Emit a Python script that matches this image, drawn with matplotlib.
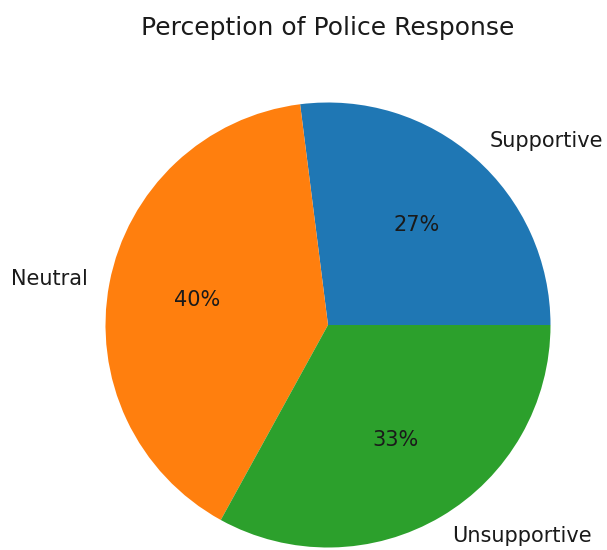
import matplotlib
matplotlib.use("Agg")
import matplotlib.pyplot as plt

labels = ["Supportive", "Neutral", "Unsupportive"]
values = [27, 40, 33]
colors = ["#1f77b4", "#ff7f0e", "#2ca02c"]

W, H = 607, 550
fig = plt.figure(figsize=(W / 100, H / 100), dpi=100)
# pie bounding box in pixels: x 106..550, y 102..548 (from top)
cx, cy, r = 328, 325, 222.5
ax = fig.add_axes([(cx - r) / W, (H - cy - r) / H, 2 * r / W, 2 * r / H])
ax.pie(values, labels=labels, colors=colors, autopct="%1.0f%%",
       textprops={"fontsize": 15, "color": "#1a1a1a"})
ax.set_xlim(-1, 1)
ax.set_ylim(-1, 1)
ax.set_aspect("auto")
ax.set_axis_off()
fig.text(cx / W, 1 - 28 / H, "Perception of Police Response", fontsize=18,
         ha="center", va="center", color="#1a1a1a")
fig.savefig("out.png", dpi=100)
